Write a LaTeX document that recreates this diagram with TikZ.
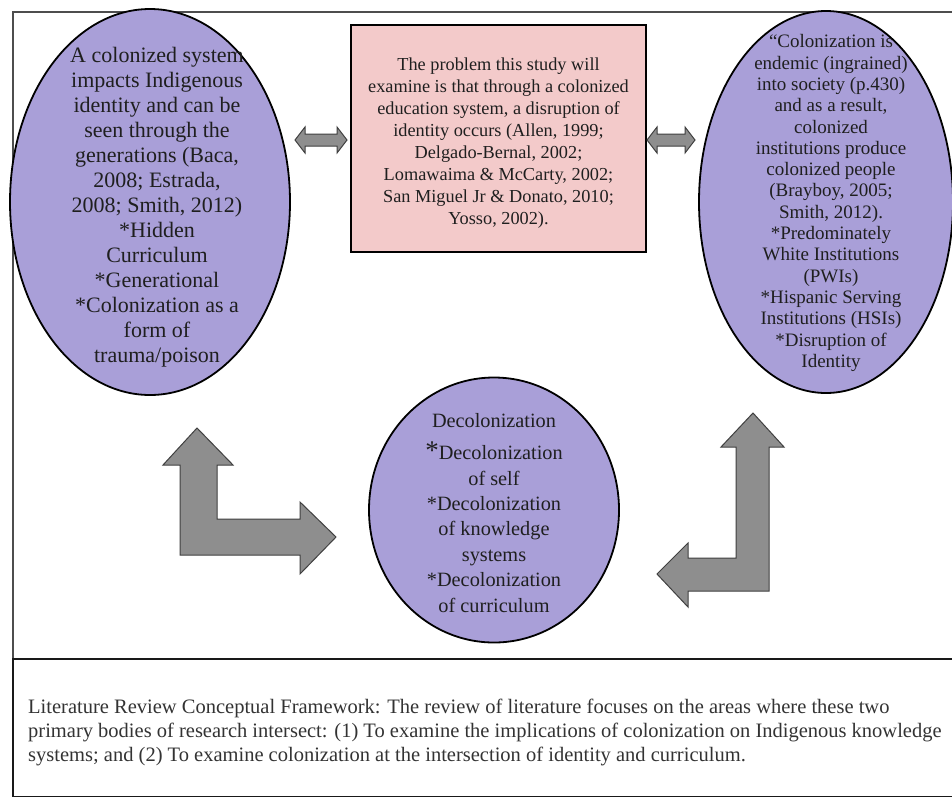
\documentclass[tikz,border=0pt]{standalone}
\usepackage{fontspec}
\setmainfont{Liberation Serif}
\usetikzlibrary{shapes.geometric}
\definecolor{lav}{HTML}{A99FD8}
\definecolor{pinkbox}{HTML}{F3CACA}
\definecolor{arrgray}{HTML}{8E8E8E}
\definecolor{framegray}{HTML}{4D4D4D}
\begin{document}
\begin{tikzpicture}[x=1pt,y=-1pt,
  ell/.style={ellipse, draw=black, line width=1.8pt, fill=lav, inner sep=0pt},
  probbox/.style={rectangle, draw=black, line width=1.8pt, fill=pinkbox, inner sep=0pt},
  txt/.style={align=center, inner sep=0pt, text=black!88},
  blockarr/.style={draw=black!75, line width=1pt, fill=arrgray, line join=miter},
  framel/.style={draw=framegray, line width=1.5pt}
]
\useasboundingbox (0,0) rectangle (952,796);
\fill[white] (0,0) rectangle (952,796);

% outer frame and caption box
\draw[framel] (13,659) -- (13,12) -- (975,12);
\draw[line width=2.6pt, draw=black!90] (13,659) rectangle (975,797);

% left ellipse
\node[ell, minimum width=280pt, minimum height=386pt] (left) at (150,202) {};
\node[txt, font=\fontsize{22}{25}\selectfont] (lefttxt) at (157,207) {A colonized system\\
impacts Indigenous\\
identity and can be\\
seen through the\\
generations (Baca,\\
2008; Estrada,\\
2008; Smith, 2012)\\
*Hidden\\
Curriculum\\
*Generational\\
*Colonization as a\\
form of\\
trauma/poison};

% problem box
\node[probbox, minimum width=295pt, minimum height=227pt] (prob) at (498.5,138.5) {};
\node[txt, font=\fontsize{18.3}{22}\selectfont] (probtxt) at (498.5,143) {The problem this study will\\
examine is that through a colonized\\
education system, a disruption of\\
identity occurs (Allen, 1999;\\
Delgado-Bernal, 2002;\\
Lomawaima \& McCarty, 2002;\\
San Miguel Jr \& Donato, 2010;\\
Yosso, 2002).};

% right ellipse
\node[ell, minimum width=254pt, minimum height=382pt] (right) at (826,202) {};
\node[txt, font=\fontsize{19}{21.3}\selectfont] (righttxt) at (831,203) {“Colonization is\\
endemic (ingrained)\\
into society (p.430)\\
and as a result,\\
colonized\\
institutions produce\\
colonized people\\
(Brayboy, 2005;\\
Smith, 2012).\\
*Predominately\\
White Institutions\\
(PWIs)\\
*Hispanic Serving\\
Institutions (HSIs)\\
*Disruption of\\
Identity};

% center ellipse
\node[ell, minimum width=250pt, minimum height=265pt] (decol) at (494,510) {};
\node[txt, font=\fontsize{20.3}{25.4}\selectfont] (decoltxt) at (494,513) {Decolonization\\[6.6pt]
{\fontsize{27}{25.4}\selectfont *}Decolonization\\
of self\\
*Decolonization\\
of knowledge\\
systems\\
*Decolonization\\
of curriculum};

% double arrows between nodes
\coordinate (da1) at (321,140);
\coordinate (da2) at (671,140);
\begin{scope}[shift={(da1)}]
\draw[blockarr] (-26,0) -- (-16,-13) -- (-16,-6) -- (16,-6) -- (16,-13) -- (26,0)
  -- (16,13) -- (16,6) -- (-16,6) -- (-16,13) -- cycle;
\end{scope}
\begin{scope}[shift={(da2)}]
\draw[blockarr] (-24,0) -- (-14,-13) -- (-14,-6) -- (14,-6) -- (14,-13) -- (24,0)
  -- (14,13) -- (14,6) -- (-14,6) -- (-14,13) -- cycle;
\end{scope}

% bent arrows
\draw[blockarr] (197,428) -- (233,465) -- (217,465) -- (217,519) -- (300,519) -- (300,502)
  -- (336,537) -- (300,574) -- (300,555) -- (180,555) -- (180,465) -- (163,465) -- cycle;
\draw[blockarr] (753,413) -- (784,447) -- (769,447) -- (769,591) -- (688,591) -- (688,607)
  -- (657,574) -- (688,543) -- (688,558) -- (736,558) -- (736,447) -- (721,447) -- cycle;

% caption
\node[anchor=west, align=left, inner sep=0pt, text=black!80,
  font=\fontsize{20.5}{24}\selectfont] (caption) at (28,732)
{Literature Review Conceptual Framework: The review of literature focuses on the areas where these two\\
primary bodies of research intersect: (1) To examine the implications of colonization on Indigenous knowledge\\
systems; and (2) To examine colonization at the intersection of identity and curriculum.};
\end{tikzpicture}
\end{document}
